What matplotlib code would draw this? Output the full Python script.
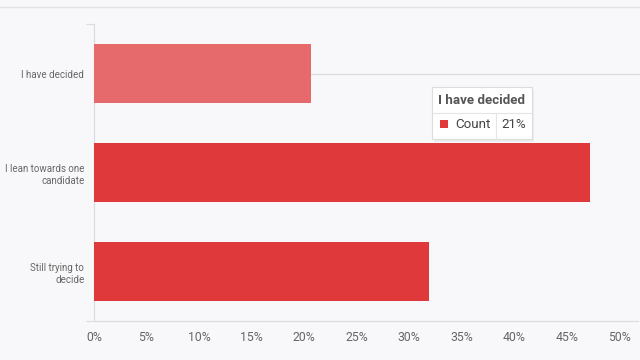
import matplotlib.pyplot as plt
from matplotlib.patches import Rectangle
from matplotlib.lines import Line2D

categories = ["I have decided", "I lean towards one\ncandidate", "Still trying to\ndecide"]
values = [20.7, 47.2, 31.9]
bar_colors = ["#e66a6b", "#e0393b", "#e0393b"]
xticks = [0, 5, 10, 15, 20, 25, 30, 35, 40, 45, 50]
tooltip_title = "I have decided"
tooltip_series = "Count"
tooltip_value = "21%"

BG = "#f8f8fa"
TEXT = "#666666"
W, H = 640, 360

plt.rcParams['font.family'] = ['Roboto', 'DejaVu Sans']


def fx(px):
    return px / W


def fy(py):
    return 1 - py / H


def main():
    fig = plt.figure(figsize=(6.4, 3.6), dpi=100, facecolor=BG)
    ax = fig.add_axes([fx(94), fy(321), fx(638) - fx(94), fy(24) - fy(321)])
    ax.set_facecolor(BG)

    ypos = list(range(len(categories)))
    ax.barh(ypos, values, height=0.6, color=bar_colors, zorder=3)

    # hover line through the highlighted bar
    ax.plot([values[0], 60], [0, 0], color="#dcdce0", lw=0.9, zorder=2,
            clip_on=False)

    ax.set_xlim(0, 51.8)
    ax.set_ylim(2.5, -0.5)
    ax.set_xticks(xticks)
    ax.set_xticklabels([f"{t}%" for t in xticks])
    ax.set_yticks(ypos)
    ax.set_yticklabels(categories)
    ax.set_yticks([-0.5, 2.5], minor=True)

    ax.tick_params(axis="x", length=0, pad=7, labelsize=8.8, colors=TEXT)
    ax.tick_params(axis="y", which="major", length=0, pad=7, labelsize=7,
                   colors=TEXT)
    ax.tick_params(axis="y", which="minor", length=6, width=0.8,
                   color="#dcdce0")
    for lab in ax.get_yticklabels():
        lab.set_horizontalalignment("right")
        lab.set_multialignment("right")
        lab.set_linespacing(1.35)

    for s in ["top", "right"]:
        ax.spines[s].set_visible(False)
    for s in ["left", "bottom"]:
        ax.spines[s].set_color("#dcdce0")
        ax.spines[s].set_linewidth(0.9)

    # top border of the panel
    fig.add_artist(Line2D([0, 1], [fy(7), fy(7)], color="#e2e2e6", lw=1.0))

    # tooltip
    x0, x1, y0, y1 = 432, 532, 87, 139
    fig.add_artist(Rectangle((fx(x0 + 2), fy(y1 + 3)), fx(x1 - x0), fy(y0) - fy(y1),
                             transform=fig.transFigure, facecolor="#e8e8ec",
                             edgecolor="none", alpha=0.7, zorder=9))
    fig.add_artist(Rectangle((fx(x0), fy(y1)), fx(x1 - x0), fy(y0) - fy(y1),
                             transform=fig.transFigure, facecolor="white",
                             edgecolor="#dcdcdc", lw=0.8, zorder=10))
    fig.add_artist(Line2D([fx(x0), fx(x1)], [fy(113), fy(113)], color="#e4e4e4",
                          lw=0.8, zorder=11))
    fig.add_artist(Line2D([fx(496), fx(496)], [fy(113), fy(y1)], color="#e4e4e4",
                          lw=0.8, zorder=11))
    fig.add_artist(Rectangle((fx(440), fy(128)), fx(8), fy(120) - fy(128),
                             transform=fig.transFigure, facecolor="#e0393b",
                             edgecolor="none", zorder=12))
    fig.text(fx(482), fy(101), tooltip_title, ha="center", va="center",
             fontsize=9.6, fontweight="bold", color="#555555", zorder=12)
    fig.text(fx(455), fy(125), tooltip_series, ha="left", va="center",
             fontsize=9.6, color="#444444", zorder=12)
    fig.text(fx(514), fy(125), tooltip_value, ha="center", va="center",
             fontsize=9.6, color="#444444", zorder=12)

    fig.savefig("out.png", dpi=100, facecolor=BG)


if __name__ == "__main__":
    main()
